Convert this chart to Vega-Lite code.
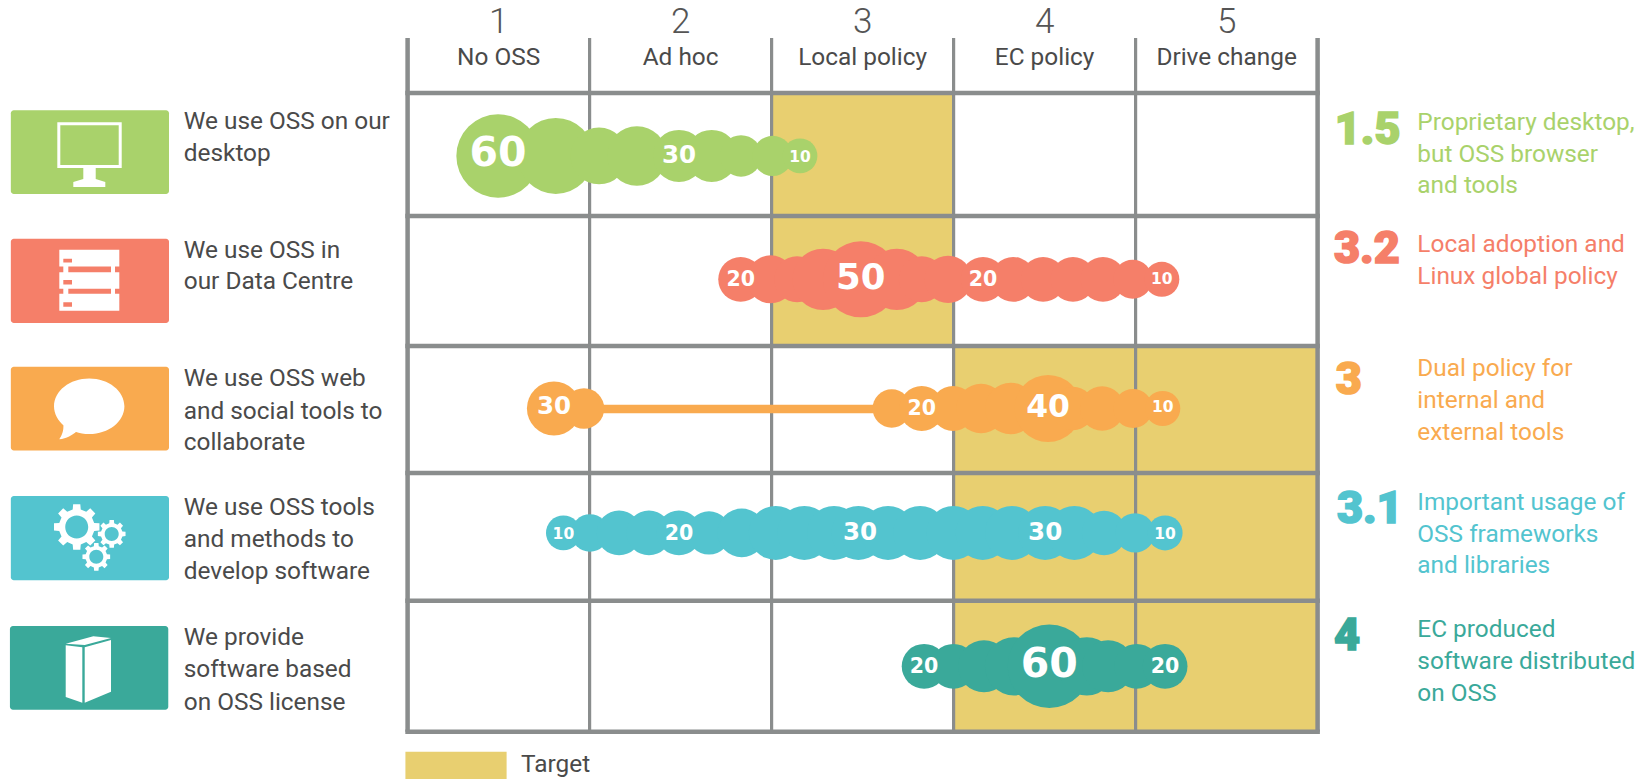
{"$schema":"https://vega.github.io/schema/vega-lite/v6.json","width":910,"height":693.7,"padding":{"left":407.6,"top":38,"right":334.4,"bottom":47.3},"autosize":{"type":"none"},"background":"#ffffff","config":{"view":{"stroke":null},"text":{"font":"Roboto"}},
"datasets":{
"target":[{"x":2.5,"x2":3.5,"y":0,"y2":0.963},{"x":2.5,"x2":3.5,"y":0.963,"y2":1.981},{"x":3.5,"x2":5.5,"y":1.981,"y2":5},{"x":0.488,"x2":1.044,"y":5.157,"y2":5.37}],
"inner":[{"x":1.5,"y":-0.43,"y2":5},{"x":2.5,"y":-0.43,"y2":5},{"x":3.5,"y":-0.43,"y2":5},{"x":4.5,"y":-0.43,"y2":5}],
"outer":[{"x":0.5,"y":-0.43,"y2":5},{"x":5.5,"y":-0.43,"y2":5}],
"horizontal":[{"y":0,"x":0.5,"x2":5.5},{"y":0.963,"x":0.5,"x2":5.5},{"y":1.981,"x":0.5,"x2":5.5},{"y":2.975,"x":0.5,"x2":5.5},{"y":3.975,"x":0.5,"x2":5.5},{"y":5,"x":0.5,"x2":5.5}],
"boxes":[{"x":-1.68,"x2":-0.811,"y":0.135,"y2":0.791,"c":"desktop"},{"x":-1.68,"x2":-0.811,"y":1.141,"y2":1.8,"c":"datacentre"},{"x":-1.68,"x2":-0.811,"y":2.143,"y2":2.799,"c":"web"},{"x":-1.68,"x2":-0.811,"y":3.155,"y2":3.814,"c":"tools"},{"x":-1.685,"x2":-0.815,"y":4.172,"y2":4.829,"c":"licence"}],
"icons":[{"x":-1.2505,"y":0.463,"c":"desktop"},{"x":-1.2505,"y":1.47,"c":"datacentre"},{"x":-1.2505,"y":2.471,"c":"web"},{"x":-1.2505,"y":4.501,"c":"licence"}],
"gearBig":[{"x":-1.318,"y":3.397}],
"gearSmall":[{"x":-1.1258,"y":3.452},{"x":-1.2104,"y":3.631}],
"gap":[{"x":1.469,"x2":3.16,"y":2.474,"c":"web"}],
"bubbles":[
{"c":"desktop","y":0.493,"x":0.997,"v":60},{"c":"desktop","y":0.493,"x":1.314,"v":50},{"c":"desktop","y":0.493,"x":1.552,"v":32},{"c":"desktop","y":0.493,"x":1.76,"v":34},{"c":"desktop","y":0.493,"x":1.991,"v":27.7},{"c":"desktop","y":0.493,"x":2.171,"v":27.7},{"c":"desktop","y":0.493,"x":2.332,"v":16.5},{"c":"desktop","y":0.493,"x":2.506,"v":15},{"c":"desktop","y":0.493,"x":2.656,"v":10},
{"c":"datacentre","y":1.459,"x":2.33,"v":20},{"c":"datacentre","y":1.459,"x":2.495,"v":23.3},{"c":"datacentre","y":1.459,"x":2.64,"v":21.2},{"c":"datacentre","y":1.459,"x":2.783,"v":35.4},{"c":"datacentre","y":1.459,"x":2.99,"v":50},{"c":"datacentre","y":1.459,"x":3.188,"v":35.4},{"c":"datacentre","y":1.459,"x":3.325,"v":21.2},{"c":"datacentre","y":1.459,"x":3.47,"v":22.6},{"c":"datacentre","y":1.459,"x":3.662,"v":20},{"c":"datacentre","y":1.459,"x":3.827,"v":20},{"c":"datacentre","y":1.459,"x":3.992,"v":20},{"c":"datacentre","y":1.459,"x":4.156,"v":20},{"c":"datacentre","y":1.459,"x":4.321,"v":20},{"c":"datacentre","y":1.459,"x":4.484,"v":13.9},{"c":"datacentre","y":1.459,"x":4.644,"v":10.2},
{"c":"web","y":2.47,"x":1.304,"v":30},{"c":"web","y":2.47,"x":1.469,"v":15.5},{"c":"web","y":2.47,"x":3.16,"v":13.3},{"c":"web","y":2.47,"x":3.325,"v":20},{"c":"web","y":2.47,"x":3.497,"v":20},{"c":"web","y":2.47,"x":3.651,"v":24.8},{"c":"web","y":2.47,"x":3.814,"v":27},{"c":"web","y":2.47,"x":4.019,"v":40},{"c":"web","y":2.47,"x":4.156,"v":18.4},{"c":"web","y":2.47,"x":4.316,"v":19.6},{"c":"web","y":2.47,"x":4.486,"v":14},{"c":"web","y":2.47,"x":4.649,"v":10.3},
{"c":"tools","y":3.444,"x":1.356,"v":10},{"c":"tools","y":3.444,"x":1.502,"v":12.4},{"c":"tools","y":3.444,"x":1.662,"v":20},{"c":"tools","y":3.444,"x":1.826,"v":20},{"c":"tools","y":3.444,"x":1.991,"v":20},{"c":"tools","y":3.444,"x":2.156,"v":18.4},{"c":"tools","y":3.444,"x":2.336,"v":23.9},{"c":"tools","y":3.444,"x":2.523,"v":30},{"c":"tools","y":3.444,"x":2.68,"v":30},{"c":"tools","y":3.444,"x":2.843,"v":30},{"c":"tools","y":3.444,"x":2.977,"v":30},{"c":"tools","y":3.444,"x":3.14,"v":30},{"c":"tools","y":3.444,"x":3.316,"v":30},{"c":"tools","y":3.444,"x":3.499,"v":30},{"c":"tools","y":3.444,"x":3.66,"v":30},{"c":"tools","y":3.444,"x":3.821,"v":30},{"c":"tools","y":3.444,"x":4.003,"v":30},{"c":"tools","y":3.444,"x":4.164,"v":30},{"c":"tools","y":3.444,"x":4.327,"v":19.6},{"c":"tools","y":3.444,"x":4.497,"v":14.3},{"c":"tools","y":3.444,"x":4.662,"v":10.2},
{"c":"licence","y":4.488,"x":3.338,"v":20},{"c":"licence","y":4.488,"x":3.499,"v":20},{"c":"licence","y":4.488,"x":3.667,"v":27.7},{"c":"licence","y":4.488,"x":3.832,"v":33},{"c":"licence","y":4.488,"x":4.026,"v":60},{"c":"licence","y":4.488,"x":4.232,"v":33},{"c":"licence","y":4.488,"x":4.349,"v":27.7},{"c":"licence","y":4.488,"x":4.506,"v":20},{"c":"licence","y":4.488,"x":4.662,"v":20}],
"labels":[
{"x":0.997,"y":0.46,"n":60},{"x":1.991,"y":0.48,"n":30},{"x":2.656,"y":0.485,"n":10},
{"x":2.33,"y":1.448,"n":20},{"x":2.99,"y":1.43,"n":50},{"x":3.662,"y":1.448,"n":20},{"x":4.644,"y":1.438,"n":10},
{"x":1.304,"y":2.442,"n":30},{"x":3.325,"y":2.456,"n":20},{"x":4.019,"y":2.45,"n":40},{"x":4.649,"y":2.442,"n":10},
{"x":1.356,"y":3.434,"n":10},{"x":1.991,"y":3.434,"n":20},{"x":2.986,"y":3.426,"n":30},{"x":4.003,"y":3.426,"n":30},{"x":4.662,"y":3.434,"n":10},
{"x":3.338,"y":4.478,"n":20},{"x":4.026,"y":4.462,"n":60},{"x":4.662,"y":4.478,"n":20}],
"levels":[{"x":1,"y":-0.566,"t":"1"},{"x":2,"y":-0.566,"t":"2"},{"x":3,"y":-0.566,"t":"3"},{"x":4,"y":-0.566,"t":"4"},{"x":5,"y":-0.566,"t":"5"}],
"levelNames":[{"x":1,"y":-0.284,"t":"No OSS"},{"x":2,"y":-0.284,"t":"Ad hoc"},{"x":3,"y":-0.284,"t":"Local policy"},{"x":4,"y":-0.284,"t":"EC policy"},{"x":5,"y":-0.284,"t":"Drive change"}],
"left":[{"x":-0.73,"y":0.219,"t":"We use OSS on our"},{"x":-0.73,"y":0.47,"t":"desktop"},{"x":-0.73,"y":1.224,"t":"We use OSS in"},{"x":-0.73,"y":1.472,"t":"our Data Centre"},{"x":-0.73,"y":2.231,"t":"We use OSS web"},{"x":-0.73,"y":2.482,"t":"and social tools to"},{"x":-0.73,"y":2.73,"t":"collaborate"},{"x":-0.73,"y":3.239,"t":"We use OSS tools"},{"x":-0.73,"y":3.489,"t":"and methods to"},{"x":-0.73,"y":3.742,"t":"develop software"},{"x":-0.73,"y":4.256,"t":"We provide"},{"x":-0.73,"y":4.507,"t":"software based"},{"x":-0.73,"y":4.76,"t":"on OSS license"},{"x":1.123,"y":5.25,"t":"Target"}],
"scores":[{"x":5.594,"y":0.27,"t":"1.5","c":"desktop"},{"x":5.59,"y":1.203,"t":"3.2","c":"datacentre"},{"x":5.6,"y":2.229,"t":"3","c":"web"},{"x":5.606,"y":3.241,"t":"3.1","c":"tools"},{"x":5.59,"y":4.233,"t":"4","c":"licence"}],
"right":[{"x":6.048,"y":0.225,"t":"Proprietary desktop,","c":"desktop"},{"x":6.048,"y":0.472,"t":"but OSS browser","c":"desktop"},{"x":6.048,"y":0.72,"t":"and tools","c":"desktop"},{"x":6.048,"y":1.177,"t":"Local adoption and","c":"datacentre"},{"x":6.048,"y":1.427,"t":"Linux global policy","c":"datacentre"},{"x":6.048,"y":2.15,"t":"Dual policy for","c":"web"},{"x":6.048,"y":2.398,"t":"internal and","c":"web"},{"x":6.048,"y":2.652,"t":"external tools","c":"web"},{"x":6.048,"y":3.199,"t":"Important usage of","c":"tools"},{"x":6.048,"y":3.447,"t":"OSS frameworks","c":"tools"},{"x":6.048,"y":3.695,"t":"and libraries","c":"tools"},{"x":6.048,"y":4.191,"t":"EC produced","c":"licence"},{"x":6.048,"y":4.444,"t":"software distributed","c":"licence"},{"x":6.048,"y":4.695,"t":"on OSS","c":"licence"}]
},
"encoding":{"x":{"field":"x","type":"quantitative","axis":null,"scale":{"domain":[0.5,5.5],"nice":false,"zero":false}},"y":{"field":"y","type":"quantitative","axis":null,"scale":{"domain":[-0.43,5],"reverse":true,"nice":false,"zero":false}}},
"layer":[
{"data":{"name":"target"},"mark":{"type":"rect","color":"#E8CF70"},"encoding":{"x2":{"field":"x2"},"y2":{"field":"y2"}}},
{"data":{"name":"inner"},"mark":{"type":"rule","color":"#8A8D8D","strokeWidth":3.2},"encoding":{"y2":{"field":"y2"}}},
{"data":{"name":"outer"},"mark":{"type":"rule","color":"#8A8D8D","strokeWidth":4.5},"encoding":{"y2":{"field":"y2"}}},
{"data":{"name":"horizontal"},"mark":{"type":"rule","color":"#8A8D8D","strokeWidth":4.6,"strokeCap":"square"},"encoding":{"x2":{"field":"x2"}}},
{"data":{"name":"boxes"},"mark":{"type":"rect","cornerRadius":3},"encoding":{"x2":{"field":"x2"},"y2":{"field":"y2"},"color":{"field":"c","type":"nominal","legend":null,"scale":{"domain":["desktop","datacentre","web","tools","licence"],"range":["#A9D26B","#F57F69","#F9AA4F","#53C4CF","#3AA99A"]}}}},
{"data":{"name":"icons"},"mark":{"type":"point","filled":true,"color":"#ffffff","opacity":1,"size":10000,"strokeWidth":0},"encoding":{"shape":{"field":"c","type":"nominal","legend":null,"scale":{"domain":["desktop","datacentre","web","licence"],"range":[
"M-.634 -.596L.654 -.596L.654 .318L-.634 .318ZM-.574 -.536L-.574 .258L.594 .258L.594 -.536ZM-.114 .318L.134 .318L.134 .54L.326 .6L.326 .698L-.314 .698L-.314 .6L-.114 .54Z",
"M-.594 -.618L.606 -.618L.606 -.284L-.594 -.284ZM-.514 -.442L-.514 -.364L-.34 -.364L-.34 -.442ZM-.594 -.172L.606 -.172L.606 .162L-.594 .162ZM-.514 -.014L-.514 .074L-.34 .074L-.34 -.014ZM-.594 .258L.606 .258L.606 .598L-.594 .598ZM-.514 .432L-.514 .522L-.34 .522L-.34 .432ZM-.514 -.284L-.414 -.284L-.414 -.172L-.514 -.172ZM.44 -.284L.52 -.284L.52 -.172L.44 -.172ZM-.514 .162L-.414 .162L-.414 .258L-.514 .258ZM.44 .162L.52 .162L.52 .258L.44 .258Z",
"M-.7 -.048C-.7 -.355 -.385 -.604 .004 -.604C.393 -.604 .708 -.355 .708 -.048C.708 .259 .393 .508 .004 .508C-.385 .508 -.7 .259 -.7 -.048ZM-.246 .452C-.33 .53 -.45 .6 -.594 .612C-.55 .55 -.5 .45 -.514 .31Z",
"M-.466 -.486L.086 -.636L.44 -.598L-.086 -.46ZM-.466 -.454L-.134 -.414L-.134 .698L-.466 .58ZM-.086 -.414L.44 -.558L.44 .476L-.086 .698Z"]}}}},
{"data":{"name":"gearBig"},"mark":{"type":"point","filled":true,"color":"#ffffff","opacity":1,"size":2116,"strokeWidth":0,"shape":"M.76 -.175L.988 -.156L.988 .156L.76 .175L.661 .413L.809 .588L.588 .809L.413 .661L.175 .76L.156 .988L-.156 .988L-.175 .76L-.413 .661L-.588 .809L-.809 .588L-.661 .413L-.76 .175L-.988 .156L-.988 -.156L-.76 -.175L-.661 -.413L-.809 -.588L-.588 -.809L-.413 -.661L-.175 -.76L-.156 -.988L.156 -.988L.175 -.76L.413 -.661L.588 -.809L.809 -.588L.661 -.413ZM.5 0C.5 -.276 .276 -.5 0 -.5C-.276 -.5 -.5 -.276 -.5 0C-.5 .276 -.276 .5 0 .5C.276 .5 .5 .276 .5 0Z"}},
{"data":{"name":"gearSmall"},"mark":{"type":"point","filled":true,"color":"#ffffff","opacity":1,"size":784,"strokeWidth":0,"shape":"M.76 -.175L.988 -.156L.988 .156L.76 .175L.661 .413L.809 .588L.588 .809L.413 .661L.175 .76L.156 .988L-.156 .988L-.175 .76L-.413 .661L-.588 .809L-.809 .588L-.661 .413L-.76 .175L-.988 .156L-.988 -.156L-.76 -.175L-.661 -.413L-.809 -.588L-.588 -.809L-.413 -.661L-.175 -.76L-.156 -.988L.156 -.988L.175 -.76L.413 -.661L.588 -.809L.809 -.588L.661 -.413ZM.5 0C.5 -.276 .276 -.5 0 -.5C-.276 -.5 -.5 -.276 -.5 0C-.5 .276 -.276 .5 0 .5C.276 .5 .5 .276 .5 0Z"}},
{"data":{"name":"gap"},"mark":{"type":"rule","strokeWidth":8.7},"encoding":{"x2":{"field":"x2"},"color":{"field":"c","type":"nominal","legend":null}}},
{"data":{"name":"bubbles"},"mark":{"type":"point","filled":true,"opacity":1,"strokeWidth":0},"encoding":{"color":{"field":"c","type":"nominal","legend":null},"size":{"field":"v","type":"quantitative","legend":null,"scale":{"domain":[10,20,30,40,50,60],"range":[1211,2007,2916,4489,5776,6956]}}}},
{"data":{"name":"labels"},"mark":{"type":"text","font":"DejaVu Sans","fontWeight":"bold","color":"#ffffff","baseline":"middle","align":"center","dy":2},"encoding":{"text":{"field":"n","type":"nominal"},"size":{"field":"n","type":"quantitative","legend":null,"scale":{"domain":[10,20,30,40,50,60],"range":[15.5,20.5,24.5,31.5,35.5,41]}}}},
{"data":{"name":"levels"},"mark":{"type":"text","fontSize":35,"fontWeight":300,"color":"#555555","baseline":"middle","align":"center","dy":1},"encoding":{"text":{"field":"t"}}},
{"data":{"name":"levelNames"},"mark":{"type":"text","fontSize":24.4,"color":"#4A4A4A","baseline":"middle","align":"center","dy":1.5},"encoding":{"text":{"field":"t"}}},
{"data":{"name":"left"},"mark":{"type":"text","fontSize":24.4,"color":"#4A4A4A","baseline":"middle","align":"left","dy":1.5},"encoding":{"text":{"field":"t"}}},
{"data":{"name":"scores"},"mark":{"type":"text","fontSize":45,"fontWeight":900,"baseline":"middle","align":"left","dy":2.5,"strokeWidth":1.6},"encoding":{"text":{"field":"t"},"color":{"field":"c","type":"nominal","legend":null},"stroke":{"field":"c","type":"nominal","legend":null,"scale":{"domain":["desktop","datacentre","web","tools","licence"],"range":["#A9D26B","#F57F69","#F9AA4F","#53C4CF","#3AA99A"]}}}},
{"data":{"name":"right"},"mark":{"type":"text","fontSize":24.4,"baseline":"middle","align":"left","dy":1.5},"encoding":{"text":{"field":"t"},"color":{"field":"c","type":"nominal","legend":null}}}
],
"resolve":{"scale":{"size":"independent"}}}
